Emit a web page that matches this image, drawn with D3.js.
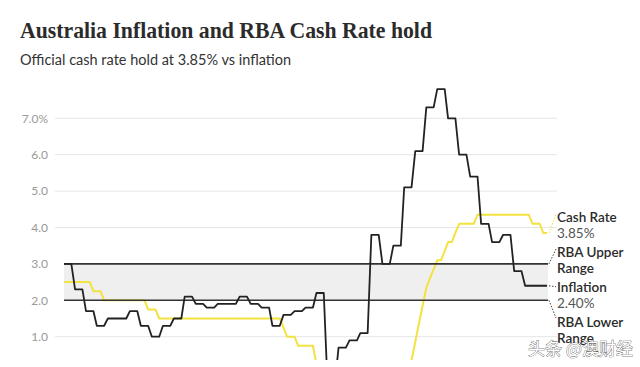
<!DOCTYPE html>
<html><head><meta charset="utf-8">
<script src="https://cdn.jsdelivr.net/npm/d3@7"></script>
<style>
html,body{margin:0;padding:0;background:#fff;}
svg{display:block;}
</style></head>
<body>
<svg id="chart" width="640" height="367"></svg>
<script>
// ---- data ----
const title = "Australia Inflation and RBA Cash Rate hold";
const subtitle = "Official cash rate hold at 3.85% vs inflation";
const yTicks = [1, 2, 3, 4, 5, 6, 7];
const targetBand = [2, 3];

// quarter-end months of CPI readings (Jun 2014 .. Mar 2025)
const cpiStart = "2014-06";
const cpiValues = [3.0, 2.3, 1.7, 1.3, 1.5, 1.5, 1.7, 1.3, 1.0, 1.3, 1.5,
  2.1, 1.9, 1.8, 1.9, 1.9, 2.1, 1.9, 1.8, 1.3, 1.6, 1.7, 1.8,
  2.2, -0.3, 0.7, 0.9, 1.1, 3.8, 3.0, 3.5, 5.1, 6.1, 7.3, 7.8,
  7.0, 6.0, 5.4, 4.1, 3.6, 3.8, 2.8, 2.4, 2.4];

// cash rate decisions (month, rate)
const rateMonths = ["2014-06","2015-02","2015-05","2016-05","2016-08","2019-06","2019-07","2019-10","2020-03","2020-11",
  "2022-05","2022-06","2022-07","2022-08","2022-09","2022-10","2022-11","2022-12","2023-02","2023-03","2023-05","2023-06","2023-11","2025-02","2025-05"];
const rateValues = [2.5, 2.25, 2.0, 1.75, 1.5, 1.25, 1.0, 0.75, 0.25, 0.1,
  0.35, 0.85, 1.35, 1.85, 2.35, 2.6, 2.85, 3.1, 3.35, 3.6, 3.85, 4.1, 4.35, 4.1, 3.85];

const endMonth = "2025-06";
const labels = [
  {lines:["Cash Rate","3.85%"]},
  {lines:["RBA Upper","Range"]},
  {lines:["Inflation","2.40%"]},
  {lines:["RBA Lower","Range"]}
];

// ---- build ----
const parse = d3.timeParse("%Y-%m");
const svg = d3.select("#chart");
const x = d3.scaleTime().domain([parse(cpiStart), parse(endMonth)]).range([64, 547]);
const y = d3.scaleLinear().domain([1, 7]).range([336.7, 118.3]);
const x0 = 64, x1 = 548;

svg.append("defs").append("clipPath").attr("id", "plotclip")
  .append("rect").attr("x", 0).attr("y", 0).attr("width", 640).attr("height", 360);

// months
const months = d3.timeMonth.range(parse(cpiStart), d3.timeMonth.offset(parse(endMonth), 1));

// inflation monthly (step, each quarter held 3 months)
const infl = months.map((m, i) => ({d: m, v: cpiValues[Math.min(Math.floor(i / 3), cpiValues.length - 1)]}));
// cash rate monthly
const rDates = rateMonths.map(parse);
const rate = months.map(m => {
  let v = rateValues[0];
  rDates.forEach((d, i) => { if (d <= m) v = rateValues[i]; });
  return {d: m, v};
});

// title
const t = svg.append("text").attr("x", 20).attr("y", 38)
  .attr("font-family", "'Liberation Serif','DejaVu Serif',serif").attr("font-weight", 700)
  .attr("font-size", 24).attr("fill", "#2b2b2b").text(title);
t.attr("textLength", 412).attr("lengthAdjust", "spacingAndGlyphs");

svg.append("text").attr("x", 20).attr("y", 65)
  .attr("font-family", "Lato, sans-serif").attr("font-size", 14.5).attr("fill", "#333").text(subtitle);

// gridlines
svg.append("g").selectAll("line").data(yTicks.filter(v => !targetBand.includes(v))).join("line")
  .attr("x1", 55).attr("x2", 557).attr("y1", d => y(d)).attr("y2", d => y(d))
  .attr("stroke", "#e6e6e6").attr("stroke-width", 1);

// tick labels
svg.append("g").selectAll("text").data(yTicks).join("text")
  .attr("x", 48).attr("y", d => y(d)).attr("dy", "0.35em").attr("text-anchor", "end")
  .attr("font-family", "Lato, sans-serif").attr("font-size", 12).attr("fill", "#999")
  .text(d => d === 7 ? d.toFixed(1) + "%" : d.toFixed(1));

// band
svg.append("rect").attr("x", x0).attr("width", x1 - x0)
  .attr("y", y(targetBand[1])).attr("height", y(targetBand[0]) - y(targetBand[1]))
  .attr("fill", "#efefef");

const line = d3.line().x(d => x(d.d)).y(d => y(d.v));
const plot = svg.append("g").attr("clip-path", "url(#plotclip)");

plot.append("path").datum(rate).attr("d", line).attr("fill", "none")
  .attr("stroke", "#f3e23f").attr("stroke-width", 2).attr("stroke-linejoin", "round");

// band lines
plot.append("g").selectAll("line").data(targetBand).join("line")
  .attr("x1", x0).attr("x2", x1).attr("y1", d => y(d)).attr("y2", d => y(d))
  .attr("stroke", "#333").attr("stroke-width", 1.6);

plot.append("path").datum(infl).attr("d", line).attr("fill", "none")
  .attr("stroke", "#222").attr("stroke-width", 1.8).attr("stroke-linejoin", "round");

// leader lines
const lastRate = rate[rate.length - 1].v, lastInfl = infl[infl.length - 1].v;
const leaders = [
  {y1: y(lastRate), y2: 214, c: "#f3e23f"},
  {y1: y(targetBand[1]), y2: 249, c: "#444"},
  {y1: y(lastInfl), y2: y(lastInfl) + 1, c: "#444"},
  {y1: y(targetBand[0]), y2: 318, c: "#444"}
];
svg.append("g").selectAll("line").data(leaders).join("line")
  .attr("x1", 549).attr("x2", 556).attr("y1", d => d.y1).attr("y2", d => d.y2)
  .attr("stroke", d => d.c).attr("stroke-width", 1).attr("stroke-dasharray", "1.5,1.5");

// labels
const baseY = [222, 257, 292, 327];
const lg = svg.append("g").attr("font-family", "Lato, sans-serif").attr("font-size", 13.5);
labels.forEach((l, i) => {
  lg.append("text").attr("x", 557).attr("y", baseY[i]).attr("fill", "#2b2b2b").attr("font-weight", 600).text(l.lines[0]);
  lg.append("text").attr("x", 557).attr("y", baseY[i] + 15.5)
    .attr("fill", i % 2 === 0 ? "#555" : "#2b2b2b").attr("font-weight", i % 2 === 0 ? 400 : 600).text(l.lines[1]);
});

// watermark
svg.append("text").attr("x", 528).attr("y", 355)
  .attr("font-family", "'Noto Sans CJK SC', sans-serif").attr("font-size", 17)
  .attr("fill", "#fff").attr("stroke", "#555").attr("stroke-width", 0.7).attr("paint-order", "stroke")
  .text("头条 @澳财经");
</script>
</body></html>
